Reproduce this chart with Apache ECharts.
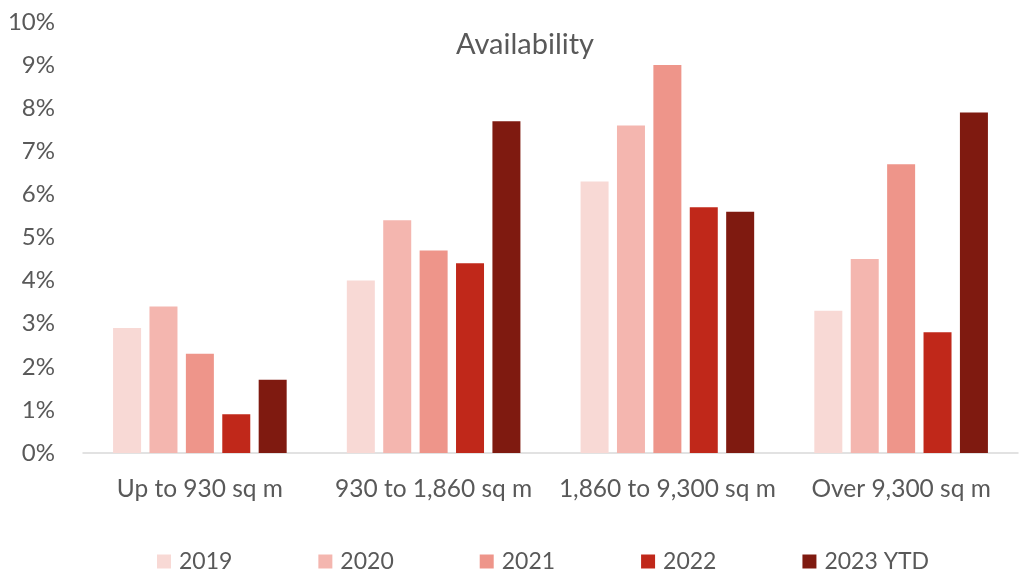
<!DOCTYPE html>
<html>
<head>
<meta charset="utf-8">
<script src="https://cdn.jsdelivr.net/npm/echarts@6/dist/echarts.min.js"></script>
<style>html,body{margin:0;padding:0;background:#fff;}#c{width:1019px;height:574px;}</style>
</head>
<body>
<div id="c"></div>
<script>
const categories = ['Up to 930 sq m', '930 to 1,860 sq m', '1,860 to 9,300 sq m', 'Over 9,300 sq m'];
const seriesNames = ['2019', '2020', '2021', '2022', '2023 YTD'];
const v2019 = [2.9, 4.0, 6.3, 3.3];
const v2020 = [3.4, 5.4, 7.6, 4.5];
const v2021 = [2.3, 4.7, 9.0, 6.7];
const v2022 = [0.9, 4.4, 5.7, 2.8];
const v2023 = [1.7, 7.7, 5.6, 7.9];
const colors = ['#F8D9D5', '#F4B6AF', '#EE958A', '#C0281A', '#7F1A10'];
const yTicks = [0, 10, 1];

const FONT = 'Lato';
const allValues = [v2019, v2020, v2021, v2022, v2023];
const chart = echarts.init(document.getElementById('c'), null, {renderer: 'canvas'});
chart.setOption({
  animation: false,
  backgroundColor: '#fff',
  title: {
    text: 'Availability', left: 520, top: 25, textAlign: 'center',
    textStyle: {fontFamily: FONT, fontSize: 29, fontWeight: 'normal', color: '#595959'}
  },
  legend: {
    left: 152, top: 545, itemWidth: 14, itemHeight: 14, itemGap: 86,
    icon: 'rect',
    textStyle: {fontFamily: FONT, fontSize: 23, color: '#595959', padding: [0, 0, 0, 3]},
    data: seriesNames
  },
  grid: {left: 83, right: 1, top: 22, bottom: 121, containLabel: false},
  xAxis: {
    type: 'category', data: categories,
    axisLine: {lineStyle: {color: '#D9D9D9', width: 1.5}},
    axisTick: {show: false},
    axisLabel: {fontFamily: FONT, fontSize: 24.5, color: '#595959', margin: 24, interval: 0}
  },
  yAxis: {
    type: 'value', min: yTicks[0], max: yTicks[1], interval: yTicks[2],
    axisLine: {show: false}, axisTick: {show: false}, splitLine: {show: false},
    axisLabel: {fontFamily: FONT, fontSize: 24, color: '#595959', margin: 28, formatter: v => v + '%'}
  },
  series: seriesNames.map((n, i) => ({
    name: n, type: 'bar', data: allValues[i], barWidth: 28, barGap: '30%',
    itemStyle: {color: colors[i]}
  }))
});
</script>
</body>
</html>
